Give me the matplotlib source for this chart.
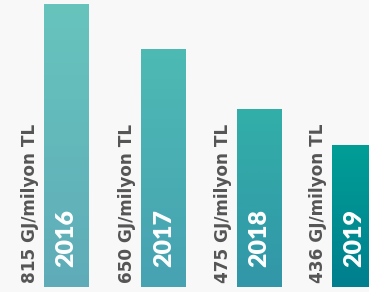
import numpy as np
import matplotlib.pyplot as plt
from matplotlib.colors import LinearSegmentedColormap

years = ['2016', '2017', '2018', '2019']
values = ['815', '650', '475', '436']
# drawn bar heights (scaled so 2016 = 815)
bar_heights = [815, 685, 514, 408]
top_colors = ['#67c4bd', '#4dbab4', '#33afa8', '#009e96']
bottom_colors = ['#5facb8', '#47a2b2', '#3296a8', '#007f8e']

fig = plt.figure(figsize=(3.69, 2.92), dpi=100)
fig.patch.set_facecolor('#f8f8f8')
ax = fig.add_axes([0, 0, 1, 1])
ax.set_facecolor('#f8f8f8')
ax.set_xlim(-0.690, 3.140)
ax.set_ylim(-14.5, 829.4)
ax.axis('off')

x = np.array([0, 1.01, 2.0, 2.985])
width = 0.467
bars = ax.bar(x, bar_heights, width=width, color='none')

grad = np.linspace(0, 1, 256).reshape(-1, 1)
for i, rect in enumerate(bars):
    x0, y0 = rect.get_x(), rect.get_y()
    w, h = rect.get_width(), rect.get_height()
    cmap = LinearSegmentedColormap.from_list('g', [bottom_colors[i], top_colors[i]])
    ax.imshow(grad, cmap=cmap, origin='lower', aspect='auto',
              extent=(x0, x0 + w, y0, y0 + h), zorder=2)

    ax.text(x[i] - 0.379, 11.6, values[i] + ' GJ/milyon TL', rotation=90,
            ha='center', va='bottom', color='#555555', fontsize=12.2,
            fontweight='bold', family='DejaVu Sans', zorder=3)
    ax.text(x[i], 58, years[i], rotation=90, ha='center', va='bottom',
            color='white', fontsize=18, fontweight='heavy', family='Lato',
            zorder=3)

plt.savefig('out.png', dpi=100, facecolor=fig.get_facecolor())
